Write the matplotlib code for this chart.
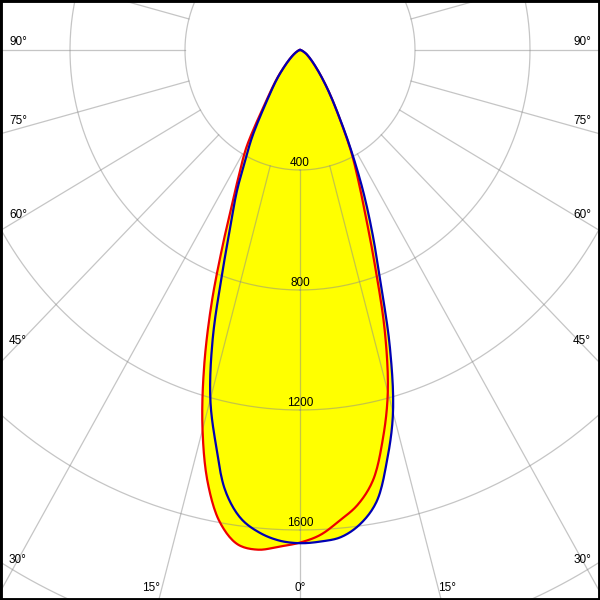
import numpy as np
import matplotlib
matplotlib.use("Agg")
import matplotlib.pyplot as plt

# ---- data (gamma in degrees, luminous intensity in cd) ----
gamma = [0, 2.5, 5, 7.5, 10, 12.5, 15, 17.5, 20, 22.5, 25, 27.5, 30, 35, 40, 45, 50, 55, 60, 70, 80, 90]
blue_left = [1644, 1637, 1615, 1575, 1493, 1350, 1205, 1010, 790, 630, 520, 410, 330, 190, 122, 74, 46, 29, 18, 7, 3, 0]
blue_right = [1644, 1640, 1630, 1595, 1530, 1400, 1250, 1040, 815, 655, 520, 400, 305, 185, 115, 74, 50, 35, 25, 10, 4, 0]
red_left = [1642, 1657, 1672, 1662, 1600, 1480, 1310, 1110, 900, 700, 550, 450, 370, 200, 125, 75, 46, 29, 18, 7, 3, 0]
red_right = [1642, 1618, 1575, 1530, 1458, 1330, 1180, 980, 760, 595, 480, 390, 300, 185, 115, 72, 48, 33, 23, 9, 4, 0]

ring_values = [400, 800, 1200, 1600, 2000]
ring_labels = ["400", "800", "1200", "1600"]
angle_ticks = [90, 75, 60, 45, 30]
bottom_ticks = [15, 0, 15]

# ---- figure ----
W = H = 600
sx, sy = 115 / 400, 120 / 400      # px per cd horizontally / vertically
cx_px, cy_px = 300, 50              # pole position in pixels

fig = plt.figure(figsize=(6, 6), dpi=100)
ax = fig.add_axes([0, 0, 1, 1])
ax.set_xlim(-cx_px / sx, (W - cx_px) / sx)
ax.set_ylim(-(H - cy_px) / sy, cy_px / sy)
ax.axis("off")


def to_xy(g, I, side):
    g = np.radians(np.asarray(g, float))
    I = np.asarray(I, float)
    return side * I * np.sin(g), -I * np.cos(g)


def catmull_rom(x, y, n=12):
    P = np.column_stack([x, y])
    P = np.vstack([2 * P[0] - P[1], P, 2 * P[-1] - P[-2]])
    out = []
    for i in range(1, len(P) - 2):
        p0, p1, p2, p3 = P[i - 1], P[i], P[i + 1], P[i + 2]
        def tj(ti, a, b):
            return ti + max(np.linalg.norm(b - a), 1e-6) ** 0.5
        t0 = 0.0
        t1 = tj(t0, p0, p1)
        t2 = tj(t1, p1, p2)
        t3 = tj(t2, p2, p3)
        ts = np.linspace(t1, t2, n, endpoint=False)[:, None]
        A1 = (t1 - ts) / (t1 - t0) * p0 + (ts - t0) / (t1 - t0) * p1
        A2 = (t2 - ts) / (t2 - t1) * p1 + (ts - t1) / (t2 - t1) * p2
        A3 = (t3 - ts) / (t3 - t2) * p2 + (ts - t2) / (t3 - t2) * p3
        B1 = (t2 - ts) / (t2 - t0) * A1 + (ts - t0) / (t2 - t0) * A2
        B2 = (t3 - ts) / (t3 - t1) * A2 + (ts - t1) / (t3 - t1) * A3
        C = (t2 - ts) / (t2 - t1) * B1 + (ts - t1) / (t2 - t1) * B2
        out.append(C)
    out.append(P[-2][None, :])
    C = np.vstack(out)
    return C[:, 0], C[:, 1]


def curve(left, right):
    xl, yl = to_xy(gamma, left, -1)
    xr, yr = to_xy(gamma, right, 1)
    x = np.concatenate([xl[::-1], xr[1:]])
    y = np.concatenate([yl[::-1], yr[1:]])
    # smooth in pixel space
    xp, yp = catmull_rom(x * sx, y * sy)
    return xp / sx, yp / sy


rx, ry = curve(red_left, red_right)
bx, by = curve(blue_left, blue_right)

ax.fill(rx, ry, color="#ffff00", lw=0, zorder=1)
ax.fill(bx, by, color="#ffff00", lw=0, zorder=1)

# grid
gcol = "#8c8c8c"
t = np.linspace(0, 2 * np.pi, 720)
for R in ring_values:
    ax.plot(R * np.sin(t), -R * np.cos(t), color=gcol, lw=0.9, alpha=0.5, zorder=2)
for a in range(0, 360, 15):
    ar = np.radians(a)
    ax.plot([400 * np.sin(ar), 2400 * np.sin(ar)], [-400 * np.cos(ar), -2400 * np.cos(ar)],
            color=gcol, lw=0.9, alpha=0.5, zorder=2)

# curves
ax.plot(rx, ry, color="#ee0000", lw=1.6, zorder=3, solid_joinstyle="round")
ax.plot(bx, by, color="#0000b4", lw=1.6, zorder=4, solid_joinstyle="round")

# ring labels
fnt = dict(family=["Liberation Sans", "DejaVu Sans"], fontsize=8.5, color="black")
for R, lab in zip(ring_values, ring_labels):
    ax.text(0, -R + 7.5 / sy, lab, ha="center", va="center", zorder=5, **fnt)

# angle labels (pixel placement)
label_y = [42, 121, 215, 341, 560]
for a, py in zip(angle_ticks, label_y):
    fig.text(9 / W, 1 - py / H, f"{a}°", ha="left", va="center", **fnt)
    fig.text(591 / W, 1 - py / H, f"{a}°", ha="right", va="center", **fnt)
for a, px in zip(bottom_ticks, [151, 300, 447]):
    fig.text(px / W, 1 - 588 / H, f"{a}°", ha="center", va="center", **fnt)

# frame
ax.add_patch(plt.Rectangle((0, 0), 1, 1, transform=fig.transFigure, fill=False,
                           edgecolor="black", lw=3.5, zorder=10, clip_on=False))

fig.savefig("out.png", dpi=100)
